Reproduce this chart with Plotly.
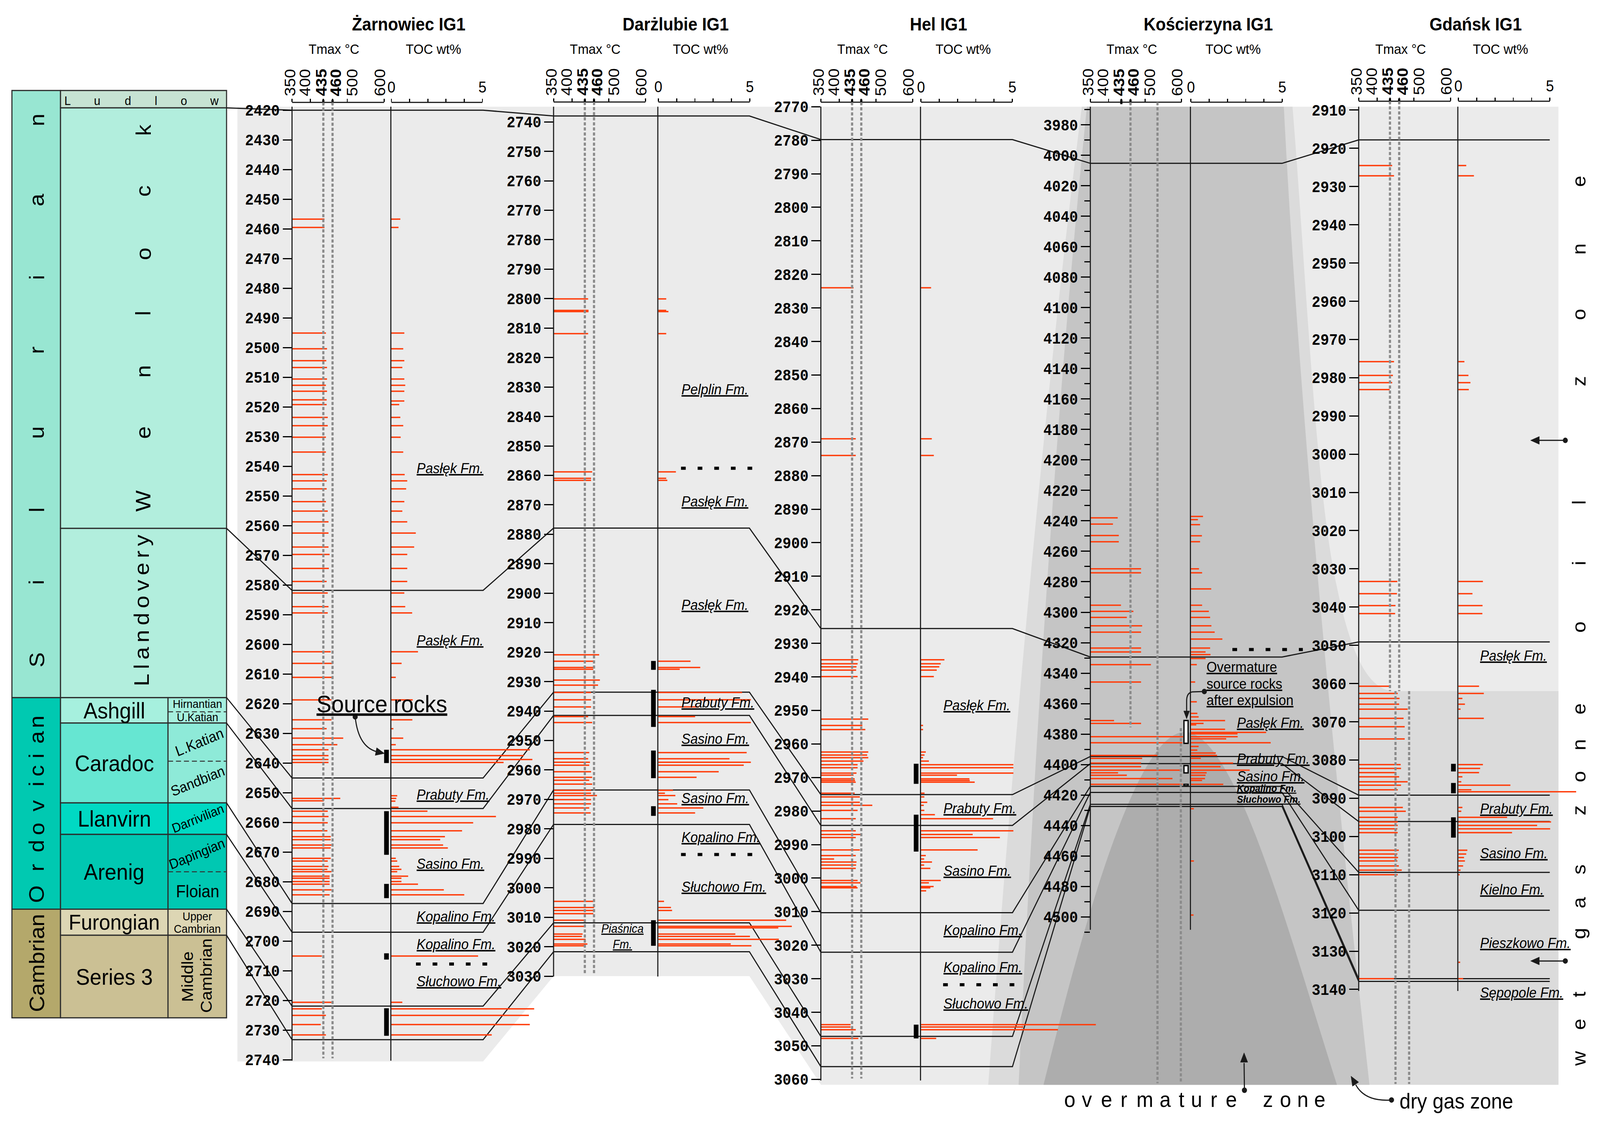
import math
import plotly.graph_objects as go

W, H = 4428, 2871

# ============================ DATA ============================
well_names = ["Żarnowiec IG1", "Darżlubie IG1", "Hel IG1", "Kościerzyna IG1", "Gdańsk IG1"]
tmax_ticks = [350, 400, 435, 460, 500, 600]
tmax_ticktext = ["350", "400", "<b>435</b>", "<b>460</b>", "500", "600"]
toc_ticks = [0, 1, 2, 3, 4, 5]
toc_ticktext = ["0", "", "", "", "", "5"]

zar_depth_ticks = list(range(2420, 2741, 10))
dar_depth_ticks = list(range(2740, 3031, 10))
hel_depth_ticks = list(range(2770, 3061, 10))
kos_depth_ticks = list(range(3980, 4501, 20))
kos_minor_ticks = list(range(3970, 4511, 10))
gda_depth_ticks = list(range(2910, 3141, 10))

# (depth m, Tmax degC)
zar_tmax = [(2456.7, 438), (2459.5, 438), (2495.1, 442), (2500.4, 445), (2504.4, 443), (2506.7, 445), (2510.6, 445),
            (2512.7, 442), (2514.7, 445), (2517.6, 444), (2519.2, 444), (2523.5, 447), (2526.3, 447), (2530.2, 442),
            (2535.2, 442), (2542.8, 447), (2544.9, 444), (2547.6, 444), (2551.9, 442), (2555.1, 447), (2558.7, 449),
            (2562.5, 449), (2567.2, 449), (2569.7, 452), (2574.4, 450), (2578.8, 444), (2582.7, 447), (2587.3, 449),
            (2589.4, 447), (2602.5, 455), (2606.4, 460), (2611.1, 460), (2618.7, 457), (2625.4, 457), (2628.4, 444),
            (2631.6, 489), (2633.8, 473), (2635.5, 449), (2637.5, 449), (2638.8, 449), (2639.8, 449), (2651.9, 481),
            (2652.7, 436), (2656.2, 447), (2658.0, 449), (2660.1, 447), (2662.8, 446), (2664.8, 455), (2665.8, 455),
            (2667.6, 457), (2668.6, 455), (2672.1, 455), (2673.0, 447), (2674.8, 449), (2675.8, 446), (2676.6, 457),
            (2678.1, 452), (2678.8, 452), (2679.9, 452), (2680.8, 452), (2682.7, 457), (2684.4, 452), (2705.0, 431),
            (2720.6, 457), (2722.8, 431), (2725.0, 442), (2728.1, 428), (2731.6, 442)]
# (depth m, TOC wt%)
zar_toc = [(2456.7, 0.49), (2459.5, 0.39), (2495.1, 0.71), (2500.4, 0.65), (2504.4, 0.71), (2506.7, 0.60),
           (2510.6, 0.71), (2512.7, 0.76), (2514.7, 0.71), (2518.0, 0.71), (2519.2, 0.43), (2523.5, 0.49),
           (2526.3, 0.65), (2530.2, 0.51), (2535.2, 0.65), (2542.8, 0.73), (2544.9, 0.87), (2547.6, 0.81),
           (2551.9, 0.71), (2555.1, 0.60), (2558.7, 0.87), (2562.5, 1.34), (2567.2, 1.25), (2569.7, 0.87),
           (2574.4, 0.87), (2578.8, 0.87), (2582.7, 0.71), (2587.3, 0.76), (2589.4, 1.14), (2602.5, 1.46),
           (2606.4, 0.56), (2611.1, 0.24), (2618.7, 1.17), (2625.4, 1.15), (2628.4, 0.11), (2631.6, 0.65),
           (2633.8, 0.24), (2635.5, 7.60), (2637.5, 7.27), (2638.8, 7.74), (2639.8, 6.16), (2651.0, 0.32),
           (2651.9, 0.27), (2652.8, 0.22), (2654.9, 0.39), (2656.2, 1.98), (2658.0, 5.74), (2660.1, 4.49),
           (2662.8, 3.88), (2664.8, 2.94), (2665.8, 2.68), (2667.6, 2.84), (2668.6, 3.10), (2672.1, 0.24),
           (2673.0, 0.32), (2674.8, 0.43), (2675.8, 0.55), (2676.6, 0.32), (2678.1, 0.92), (2678.8, 0.55),
           (2679.9, 0.55), (2680.8, 1.46), (2682.7, 2.88), (2684.4, 4.00), (2705.0, 4.76), (2720.6, 0.60),
           (2722.8, 7.84), (2725.0, 7.55), (2728.1, 7.60), (2731.6, 5.51)]

dar_tmax = [(2800.1, 444), (2804.0, 445), (2804.4, 445), (2811.9, 444), (2858.8, 455), (2861.0, 452), (2861.7, 452),
            (2920.9, 474), (2923.1, 460), (2925.2, 458), (2925.8, 458), (2929.5, 476), (2931.2, 471), (2933.7, 452),
            (2936.2, 452), (2938.6, 452), (2941.9, 444), (2943.9, 455), (2954.1, 447), (2956.2, 444), (2957.4, 449),
            (2958.4, 447), (2960.6, 452), (2962.5, 455), (2963.5, 447), (2964.8, 455), (2966.9, 452), (2967.9, 452),
            (2968.7, 468), (2970.1, 452), (2971.5, 452), (2972.9, 447), (2974.6, 451), (3004.6, 458), (3006.7, 460),
            (3007.7, 462), (3008.8, 458), (3011.0, 434), (3013.1, 437), (3015.7, 429), (3016.5, 427), (3017.5, 437),
            (3019.1, 442), (3019.7, 437)]
dar_toc = [(2800.1, 0.43), (2804.0, 0.43), (2804.4, 0.55), (2811.9, 0.43), (2858.8, 0.96), (2861.0, 0.43),
           (2861.7, 0.49), (2923.1, 1.76), (2925.2, 2.29), (2925.8, 1.17), (2933.7, 4.58), (2936.2, 5.06),
           (2938.6, 2.22), (2941.9, 2.01), (2943.9, 5.06), (2954.1, 4.83), (2956.2, 3.89), (2957.4, 5.06),
           (2958.4, 4.67), (2960.6, 3.30), (2962.5, 2.09), (2966.9, 0.80), (2967.9, 0.36), (2968.7, 0.93),
           (2970.1, 0.55), (2971.5, 1.03), (2972.9, 2.46), (2974.6, 2.01), (3004.6, 0.31), (3006.7, 0.69),
           (3007.7, 0.75), (3011.0, 6.99), (3013.1, 7.30), (3013.6, 6.56), (3015.7, 4.21), (3016.5, 5.01),
           (3017.5, 6.59), (3019.1, 3.96), (3019.7, 5.09)]

hel_tmax = [(2824.0, 439), (2869.0, 445), (2874.0, 445), (2934.9, 452), (2936.1, 450), (2937.0, 447), (2938.0, 446),
            (2939.9, 450), (2952.6, 479), (2954.5, 463), (2955.7, 471), (2962.4, 479), (2963.3, 476), (2964.1, 479),
            (2965.1, 466), (2966.2, 450), (2967.1, 450), (2968.7, 447), (2969.3, 439), (2970.4, 442), (2970.9, 443),
            (2971.4, 445), (2974.7, 442), (2975.8, 456), (2977.4, 456), (2978.3, 490), (2979.8, 450), (2982.3, 445),
            (2985.9, 445), (2987.0, 458), (2987.9, 445), (2991.6, 456), (2993.3, 445), (2994.3, 386), (2995.2, 447),
            (2996.1, 446), (2997.1, 445), (3000.7, 450), (3001.4, 458), (3002.5, 447), (3002.9, 450), (3043.7, 431),
            (3044.4, 431), (3045.2, 445), (3047.8, 452)]
hel_toc = [(2824.0, 0.55), (2869.0, 0.59), (2874.0, 0.70), (2934.9, 1.28), (2936.1, 1.08), (2937.0, 1.00),
           (2938.0, 0.86), (2939.9, 0.70), (2954.5, 0.11), (2955.7, 0.11), (2962.4, 0.26), (2963.3, 0.19),
           (2964.1, 0.11), (2965.1, 0.43), (2966.2, 5.06), (2967.1, 5.06), (2968.7, 5.06), (2969.3, 1.97),
           (2970.4, 2.65), (2970.9, 2.67), (2971.4, 2.94), (2974.7, 0.19), (2975.8, 0.18), (2977.4, 0.34),
           (2978.3, 0.15), (2979.8, 0.18), (2981.1, 0.76), (2982.3, 3.95), (2985.9, 5.06), (2987.0, 2.83),
           (2987.9, 4.32), (2991.6, 3.10), (2993.3, 0.26), (2994.3, 0.17), (2995.2, 0.60), (2996.1, 0.17),
           (2997.1, 0.51), (3000.7, 1.08), (3001.4, 0.43), (3002.5, 0.69), (3002.9, 0.51), (3003.8, 0.28),
           (3043.7, 9.58), (3044.4, 5.60), (3045.2, 7.50), (3047.8, 0.83)]

kos_tmax = [(4238.0, 425), (4242.1, 412), (4249.6, 428), (4253.7, 428), (4271.5, 489), (4274.1, 489), (4295.4, 434),
            (4299.4, 468), (4303.4, 450), (4308.9, 492), (4313.1, 489), (4323.5, 489), (4326.1, 489), (4334.4, 516),
            (4345.8, 489), (4371.1, 415), (4373.0, 489), (4381.7, 604), (4385.7, 602), (4394.0, 534), (4395.9, 492),
            (4399.0, 489), (4401.4, 489), (4403.7, 595), (4405.4, 426), (4407.0, 450), (4409.2, 575), (4413.0, 603)]
kos_toc = [(4237.1, 0.66), (4239.2, 0.38), (4242.5, 0.50), (4249.8, 0.60), (4253.7, 0.50), (4271.5, 0.44),
           (4274.1, 0.61), (4284.7, 1.11), (4295.4, 0.61), (4299.4, 0.98), (4303.4, 1.05), (4308.9, 1.12),
           (4313.1, 1.30), (4317.6, 1.72), (4323.5, 1.05), (4326.1, 0.80), (4327.8, 1.07), (4330.4, 0.80),
           (4334.4, 0.32), (4345.8, 0.23), (4358.8, 0.32), (4366.4, 0.35), (4368.7, 0.42), (4371.1, 1.87),
           (4373.0, 0.69), (4373.9, 0.29), (4376.8, 1.87), (4378.9, 4.12), (4379.8, 2.55), (4381.7, 2.56),
           (4383.1, 1.93), (4385.7, 4.37), (4388.1, 0.42), (4390.5, 0.35), (4392.4, 1.36), (4394.0, 1.43),
           (4395.9, 0.54), (4399.0, 2.31), (4401.4, 1.62), (4403.7, 3.22), (4405.4, 0.86), (4407.0, 0.80),
           (4409.2, 0.77), (4410.4, 0.61), (4413.0, 1.77), (4429.0, 0.16), (4463.3, 0.16), (4498.8, 0.14)]

gda_tmax = [(2924.5, 441), (2927.2, 446), (2975.8, 446), (2979.4, 443), (2981.3, 441), (2983.1, 434), (3033.3, 455),
            (3036.5, 454), (3039.6, 450), (3041.7, 449), (3060.7, 434), (3062.6, 456), (3063.9, 461), (3065.4, 460),
            (3066.7, 483), (3069.1, 472), (3071.3, 475), (3074.5, 475), (3081.2, 464), (3082.2, 465), (3083.3, 452),
            (3084.4, 460), (3085.7, 483), (3086.6, 465), (3087.8, 456), (3092.4, 470), (3093.4, 478), (3095.0, 456),
            (3096.2, 456), (3097.1, 456), (3098.0, 455), (3099.0, 456), (3103.6, 459), (3104.6, 455), (3105.5, 457),
            (3106.4, 455), (3107.7, 459), (3108.8, 467), (3110.0, 456), (3137.2, 446)]
gda_toc = [(2924.5, 0.43), (2927.2, 0.85), (2975.8, 0.33), (2979.4, 0.55), (2981.3, 0.66), (2983.1, 0.57),
           (3033.3, 1.34), (3036.5, 0.77), (3039.6, 1.32), (3041.7, 1.31), (3060.7, 1.13), (3062.6, 1.39),
           (3063.9, 0.22), (3065.4, 0.36), (3066.7, 0.12), (3069.1, 1.39), (3081.2, 1.34), (3082.2, 1.19),
           (3083.3, 1.13), (3084.4, 0.22), (3085.7, 0.16), (3086.6, 2.84), (3087.8, 0.71), (3088.3, 6.43),
           (3092.4, 0.22), (3093.4, 0.16), (3095.0, 2.66), (3096.2, 5.06), (3097.1, 4.30), (3098.0, 5.01),
           (3099.0, 2.93), (3103.6, 0.49), (3104.6, 0.43), (3105.5, 0.31), (3106.4, 0.36), (3107.7, 0.26),
           (3108.8, 0.12), (3110.0, 0.07), (3132.9, 0.10), (3137.2, 0.26)]

# correlated boundaries (depth, m) – same order in each well
zar_bounds = [2420.0, 2581.8, 2645.0, 2655.3, 2687.3, 2697.0, 2721.9, 2733.2]
dar_bounds = [2738.0, 2877.9, 2933.6, 2941.5, 2966.8, 2978.5, 3011.9, 3021.7]
hel_bounds = [2779.8, 2925.6, 2975.1, 2984.3, 3010.3, 3022.1, 3047.2, 3056.2]
kos_bounds = [4005.3, 4329.4, 4394.7, 4399.4, 4414.3, 4418.3, 4426.1, 4427.5]
gda_bounds = [2917.8, 3049.1, 3089.2, 3096.1, 3109.4, 3119.3, 3137.2, 3137.9]

# source-rock intervals (top, bottom)
zar_source = [(2635.5, 2640.0), (2656.2, 2670.9), (2680.7, 2685.5), (2704.1, 2706.2), (2722.6, 2731.9)]
dar_source = [(2923.0, 2926.0), (2932.8, 2945.4), (2953.4, 2962.8), (2972.3, 2975.6), (3011.0, 3019.7)]
hel_source = [(2965.9, 2971.9), (2981.1, 2992.1), (3043.7, 3047.8)]
kos_source = []
gda_source = [(3081.0, 3083.0), (3086.0, 3088.7), (3095.0, 3100.3)]
kos_overmature = [(4370.6, 4386.5), (4400.2, 4405.9), (4412.5, 4414.1)]

# formation labels (name, depth)
zar_fm = [("Pasłęk Fm.", 2540.7), ("Pasłęk Fm.", 2598.7), ("Prabuty Fm.", 2650.7), ("Sasino Fm.", 2673.9),
          ("Kopalino Fm.", 2691.7), ("Kopalino Fm.", 2701.1), ("Słuchowo Fm.", 2713.5)]
dar_fm = [("Pelplin Fm.", 2830.9), ("Pasłęk Fm.", 2868.9), ("Pasłęk Fm.", 2904.0), ("Prabuty Fm.", 2937.2),
          ("Sasino Fm.", 2949.5), ("Sasino Fm.", 2969.6), ("Kopalino Fm.", 2982.9), ("Słuchowo Fm.", 2999.7)]
hel_fm = [("Pasłęk Fm.", 2948.5), ("Prabuty Fm.", 2979.2), ("Sasino Fm.", 2997.9), ("Kopalino Fm.", 3015.5),
          ("Kopalino Fm.", 3026.6), ("Słuchowo Fm.", 3037.4)]
kos_fm = [("Pasłęk Fm.", 4372.7), ("Prabuty Fm.", 4396.3), ("Sasino Fm.", 4407.7), ("Kopalino Fm.", 4415.7),
          ("Słuchowo Fm.", 4422.8)]
gda_fm = [("Pasłęk Fm.", 3052.7), ("Prabuty Fm.", 3092.8), ("Sasino Fm.", 3104.4), ("Kielno Fm.", 3113.9),
          ("Pieszkowo Fm.", 3127.9), ("Sępopole Fm.", 3140.9)]
dar_piasnica = ("Piaśnica<br>Fm.", 3016.5)
# facies breaks (dashed) depths
zar_breaks = [2707.7]
dar_breaks = [2857.6, 2988.7]
hel_breaks = [3031.8]
kos_breaks = [4324.5]
gda_breaks = []

# ============================ LAYOUT GEOMETRY (pixels) ============================
SANS = "Liberation Sans, Arial, sans-serif"
MONO = "Liberation Mono, DejaVu Sans Mono, monospace"
RED = "#ff3c0a"
INK = "#1a1a1a"

GEO = [
    dict(x350=808.2, tpx=1.0192, toc0=1083.2, tu=50.4, d1=2420, y1=275.0, d2=2740, y2=2714.0,
         ytop=255.0, ybot=2716.0, xend=1337.0, tocmax=8.6, lx=1.35, brk=(1.35, 5.3)),
    dict(x350=1532.0, tpx=1.0176, toc0=1822.0, tu=50.6, d1=2740, y1=305.0, d2=3030, y2=2499.0,
         ytop=254.0, ybot=2500.0, xend=2074.0, tocmax=8.0, lx=1.22, brk=(1.24, 5.17)),
    dict(x350=2271.7, tpx=1.0172, toc0=2549.0, tu=50.5, d1=2770, y1=266.0, d2=3060, y2=2764.0,
         ytop=254.5, ybot=2767.0, xend=2802.0, tocmax=10.0, lx=1.19, brk=(1.21, 5.14)),
    dict(x350=3017.5, tpx=1.0100, toc0=3296.0, tu=50.5, d1=3980, y1=312.5, d2=4500, y2=2346.8,
         ytop=254.5, ybot=2380.0, xend=3548.0, tocmax=9.0, lx=2.48, brk=(2.27, 6.13)),
    dict(x350=3760.2, tpx=1.0184, toc0=4036.0, tu=50.7, d1=2910, y1=274.7, d2=3140, y2=2533.0,
         ytop=252.0, ybot=2537.0, xend=4289.0, tocmax=7.5, lx=1.14, brk=(1.2, 5.1)),
]
AXIS_PAD = 60.0          # extra axis domain below the panel (keeps bottom labels visible)
PANEL_TOP = 266.0
TMAX_LABEL_DX = [-6, -15, -6, 9, 14, -12]
DOTTED = [
    [(435, 255, 2710), (460, 255, 2710)],
    [(435, 254, 2496), (460, 254, 2496)],
    [(435, 254.5, 2762), (460, 254.5, 2762)],
    [(460, 254.5, 1860), (534, 254.5, 2774), (598, 1862, 2774)],
    [(435, 252, 1767), (460, 252, 1767), (450, 1767, 2776), (487, 1767, 2776)],
]
STRAT_RIGHT = 627.0
STRAT_LINK_Y = [269.0, 1349.0, 1783.6, 1849.0, 2054.0, 2135.0, 2327.0, 2394.0]

wells = [
    dict(tmax=zar_tmax, toc=zar_toc, bounds=zar_bounds, ticks=zar_depth_ticks, src=zar_source, fm=zar_fm, brk=zar_breaks),
    dict(tmax=dar_tmax, toc=dar_toc, bounds=dar_bounds, ticks=dar_depth_ticks, src=dar_source, fm=dar_fm, brk=dar_breaks),
    dict(tmax=hel_tmax, toc=hel_toc, bounds=hel_bounds, ticks=hel_depth_ticks, src=hel_source, fm=hel_fm, brk=hel_breaks),
    dict(tmax=kos_tmax, toc=kos_toc, bounds=kos_bounds, ticks=kos_depth_ticks, src=kos_source, fm=kos_fm, brk=kos_breaks),
    dict(tmax=gda_tmax, toc=gda_toc, bounds=gda_bounds, ticks=gda_depth_ticks, src=gda_source, fm=gda_fm, brk=gda_breaks),
]


def ypx(g, d):
    return g["y1"] + (d - g["d1"]) * (g["y2"] - g["y1"]) / (g["d2"] - g["d1"])


def dep(g, y):
    return g["d1"] + (y - g["y1"]) * (g["d2"] - g["d1"]) / (g["y2"] - g["y1"])


def xt(g, t):
    return g["x350"] + (t - 350) * g["tpx"]


def xc(g, c):
    return g["toc0"] + c * g["tu"]


def xid(n):
    return "x" if n == 1 else f"x{n}"


def yid(n):
    return "y" if n == 1 else f"y{n}"


def xkey(n):
    return "xaxis" if n == 1 else f"xaxis{n}"


def ykey(n):
    return "yaxis" if n == 1 else f"yaxis{n}"


fig = go.Figure()
layout = {}
shapes = []
anns = []


def T(x, y, s, size, angle=0, xa="center", ya="middle", family=SANS, color="black", weight=None, xref="x", yref="y"):
    f = dict(family=family, size=size, color=color)
    if weight:
        f["weight"] = weight
    anns.append(dict(x=x, y=y, xref=xref, yref=yref, text=s, showarrow=False, textangle=angle,
                     xanchor=xa, yanchor=ya, font=f))


def line(x0, y0, x1, y1, color=INK, width=3, dash=None, layer="above"):
    d = dict(type="line", xref="x", yref="y", x0=x0, y0=y0, x1=x1, y1=y1, layer=layer,
             line=dict(color=color, width=width))
    if dash:
        d["line"]["dash"] = dash
    shapes.append(d)


def rect(x0, y0, x1, y1, fill, lc="#2b2b2b", lw=3, layer="below"):
    shapes.append(dict(type="rect", xref="x", yref="y", x0=x0, y0=y0, x1=x1, y1=y1, layer=layer,
                       fillcolor=fill, line=dict(color=lc, width=lw)))


def path(p, fill=None, lc=INK, lw=3, layer="below"):
    d = dict(type="path", xref="x", yref="y", path=p, layer=layer, line=dict(color=lc, width=lw))
    if fill:
        d["fillcolor"] = fill
    shapes.append(d)


def head(tx, ty, fx, fy, L=24, hw=10):
    dx, dy = tx - fx, ty - fy
    n = math.hypot(dx, dy)
    ux, uy = dx / n, dy / n
    bx, by = tx - ux * L, ty - uy * L
    px_, py_ = -uy * hw, ux * hw
    path(f"M {tx},{ty} L {bx+px_},{by+py_} L {bx-px_},{by-py_} Z", fill=INK, lc=INK, lw=1, layer="above")


# ---------------- overlay (pixel canvas) axes ----------------
layout["xaxis"] = dict(domain=[0, 1], range=[0, W], visible=False, anchor="y", fixedrange=True)
layout["yaxis"] = dict(domain=[0, 1], range=[H, 0], visible=False, anchor="x", fixedrange=True)

# ---------------- background maturity zones ----------------
path("M 657,266 L 4313,266 L 4313,2778 L 2272,2778 L 2074,2499 L 1532,2499 L 1337,2718 L 657,2718 Z",
     fill="#ebebeb", lw=0)
path("M 2994,266 L 3577,266 C 3615,700 3640,1250 3700,1500 C 3740,1680 3790,1767 3860,1767 "
     "L 4313,1767 L 4313,2778 L 2735,2778 Q 2855,1274 2994,266 Z", fill="#dbdbdb", lw=0)
path("M 3008,266 L 3553,266 Q 3608,1274 3790,2778 L 2819,2778 Q 2896,1274 3008,266 Z", fill="#c5c5c5", lw=0)
path("M 2888,2778 C 2990,2400 3140,1872 3279,1872 C 3420,1872 3570,2400 3700,2778 Z", fill="#adadad", lw=0)

# ---------------- stratigraphic column ----------------
X0, X1, X2, X3 = 33.0, 167.5, 465.0, 627.0
periods = [("Silurian", 224.5, 1783.6, "#98e6d2"), ("Ordovician", 1783.6, 2327.0, "#00c9b1"),
           ("Cambrian", 2327.0, 2606.0, "#b4a86b")]
for _, a, b, c in periods:
    rect(X0, a, X1, b, c)
rect(X1, 224.5, X3, 269.0, "#c6e3d3")
rect(X1, 269.0, X3, 1349.0, "#b2eedd")
rect(X1, 1349.0, X3, 1783.6, "#b2eedd")
epochs = [("Ashgill", 1783.6, 1849.0, "#a6f0de"), ("Caradoc", 1849.0, 2054.0, "#66e6d2"),
          ("Llanvirn", 2054.0, 2135.0, "#00d9c3"), ("Arenig", 2135.0, 2327.0, "#00c8b2"),
          ("Furongian", 2327.0, 2394.0, "#ddd6b4"), ("Series 3", 2394.0, 2606.0, "#cbc094")]
stage_fill = ["#a6f0de", "#8eead8", "#00d9c3", "#00c8b2", "#ddd6b4", "#cbc094"]
for (nm, a, b, c), sc in zip(epochs, stage_fill):
    rect(X1, a, X2, b, c)
    rect(X2, a, X3, b, sc)
    T((X1 + X2) / 2, (a + b) / 2, nm, 58 if nm != "Furongian" else 56)
for yd in (1820.0, 1947.0, 2231.0):
    line(X2, yd, X3, yd, color="#333333", width=2.5, dash="14px,8px", layer="below")

for ch, yy in zip("Silurian", [1687, 1488, 1302, 1103, 892, 705, 506, 300]):
    T(101, yy, ch, 58, angle=-90)
for ch, yy in zip("Ordovician", [2289, 2221, 2165, 2121, 2062, 2006, 1972, 1934, 1886, 1846]):
    T(101, yy, ch, 58, angle=-90)
T(101, 2466, "Cambrian", 58, angle=-90)
for ch, xx in zip("Ludlow", [187, 269, 353.5, 431, 509, 593]):
    T(xx, 251, ch, 32)
for ch, yy in zip("Wenlock", [1279, 1103, 946, 797, 644, 483, 326]):
    T(396, yy, ch, 58, angle=-90)
T(392, 1560, "\u2009".join("Llandovery"), 58, angle=-90)
T(546, 1800, "Hirnantian", 30)
T(546, 1834, "U.Katian", 30)
T(551, 1898, "L.Katian", 38, angle=-21)
T(547, 1998, "Sandbian", 37, angle=-21)
T(547, 2094, "Darrivilian", 34, angle=-21)
T(545, 2185, "Dapingian", 36, angle=-21)
T(547, 2281, "Floian", 44)
T(546, 2345, "Upper", 30)
T(546, 2377, "Cambrian", 30)
T(518, 2500, "Middle", 44, angle=-90)
T(570, 2498, "Cambrian", 44, angle=-90)

# ---------------- wells ----------------
cor_x, cor_y = [], []
for i in range(8):
    cor_x.append(STRAT_RIGHT)
    cor_y.append(STRAT_LINK_Y[i])
    for g, w in zip(GEO, wells):
        yv = ypx(g, w["bounds"][i])
        cor_x += [g["x350"], g["xend"]]
        cor_y += [yv, yv]
    cor_x.append(None)
    cor_y.append(None)
fig.add_trace(go.Scatter(x=cor_x, y=cor_y, xaxis="x", yaxis="y", mode="lines",
                         line=dict(color=INK, width=3), hoverinfo="skip", showlegend=False))


def bars(pairs, base):
    xs, ys = [], []
    for d, v in pairs:
        xs += [base, v, None]
        ys += [d, d, None]
    return xs, ys


for k, (g, w) in enumerate(zip(GEO, wells)):
    tx, cx, yy = 2 * k + 2, 2 * k + 3, k + 2
    ydom_bot = g["ybot"] + AXIS_PAD
    layout[xkey(tx)] = dict(domain=[xt(g, 350) / W, xt(g, 612) / W], range=[350, 612], anchor=yid(yy),
                            side="top", showgrid=False, zeroline=False, showline=False, ticks="outside",
                            ticklen=8, tickwidth=3, tickcolor="black", tickvals=tmax_ticks,
                            showticklabels=False, fixedrange=True)
    layout[xkey(cx)] = dict(domain=[xc(g, -0.6) / W, xc(g, g["tocmax"]) / W], range=[-0.6, g["tocmax"]],
                            anchor=yid(yy), side="top", showgrid=False, zeroline=False, showline=False,
                            ticks="outside", ticklen=8, tickwidth=3, tickcolor="black", tickvals=toc_ticks,
                            ticktext=toc_ticktext, tickfont=dict(family=SANS, size=40, color="black"),
                            fixedrange=True)
    yax = dict(domain=[1 - ydom_bot / H, 1 - g["ytop"] / H], range=[dep(g, ydom_bot), dep(g, g["ytop"])],
               anchor=xid(tx), side="left", showgrid=False, zeroline=False, showline=False, ticks="outside",
               ticklen=25, tickwidth=3, tickcolor="black", tickvals=w["ticks"],
               tickfont=dict(family=MONO, size=40, color="black", weight="bold"), fixedrange=True)
    if k == 3:
        yax["minor"] = dict(tickvals=kos_minor_ticks, ticks="outside", ticklen=15, tickwidth=3, tickcolor="black")
    layout[ykey(yy)] = yax

    # data bars
    xs, ys = bars(w["tmax"], 350)
    fig.add_trace(go.Scatter(x=xs, y=ys, xaxis=xid(tx), yaxis=yid(yy), mode="lines",
                             line=dict(color=RED, width=3.5), hoverinfo="skip", showlegend=False))
    xs, ys = bars(w["toc"], 0)
    fig.add_trace(go.Scatter(x=xs, y=ys, xaxis=xid(cx), yaxis=yid(yy), mode="lines",
                             line=dict(color=RED, width=3.5), hoverinfo="skip", showlegend=False))
    # source rocks
    if w["src"]:
        sx, sy = [], []
        for a, b in w["src"]:
            sx += [-0.27, -0.27, None]
            sy += [a, b, None]
        fig.add_trace(go.Scatter(x=sx, y=sy, xaxis=xid(cx), yaxis=yid(yy), mode="lines",
                                 line=dict(color="black", width=13), hoverinfo="skip", showlegend=False))
    # facies breaks
    if w["brk"]:
        bx, by = [], []
        for d in w["brk"]:
            bx += [g["brk"][0], g["brk"][1], None]
            by += [d, d, None]
        fig.add_trace(go.Scatter(x=bx, y=by, xaxis=xid(cx), yaxis=yid(yy), mode="lines",
                                 line=dict(color="black", width=8, dash="13px,33px"),
                                 hoverinfo="skip", showlegend=False))
    # formation labels
    for j, (nm, d) in enumerate(w["fm"]):
        small = (k == 3 and j >= 3)
        txt = f"<b><i><u>{nm}</u></i></b>" if small else f"<i><u>{nm}</u></i>"
        T(g["lx"], d, txt, 26 if small else 37, xa="left", xref=xid(cx), yref=yid(yy))
    if k == 1:
        T(478, dar_piasnica[1], "<i><u>Piaśnica</u></i><br><i><u>Fm.</u></i>", 31, xa="left",
          xref=xid(tx), yref=yid(yy))
    if k == 3:
        ox, oy = [], []
        for a, b in kos_overmature:
            ox += [-0.27, -0.27, None]
            oy += [a, b, None]
        fig.add_trace(go.Scatter(x=ox, y=oy, xaxis=xid(cx), yaxis=yid(yy), mode="lines",
                                 line=dict(color="black", width=15), hoverinfo="skip", showlegend=False))
        ox2, oy2 = [], []
        for a, b in kos_overmature:
            ox2 += [-0.27, -0.27, None]
            oy2 += [a + 0.9, b - 0.9, None]
        fig.add_trace(go.Scatter(x=ox2, y=oy2, xaxis=xid(cx), yaxis=yid(yy), mode="lines",
                                 line=dict(color="white", width=8), hoverinfo="skip", showlegend=False))

    # panel frame lines
    line(g["x350"], PANEL_TOP, g["x350"], g["ybot"])
    line(g["toc0"] - 1.5, PANEL_TOP, g["toc0"] - 1.5, g["ybot"])
    line(xt(g, 350), g["ytop"], xt(g, 600), g["ytop"])
    line(xc(g, 0), g["ytop"], xc(g, 5), g["ytop"])
    for tv in (435, 460):
        shapes.append(dict(type="rect", xref="x", yref="y", x0=xt(g, tv) - 3, x1=xt(g, tv) + 3,
                           y0=g["ytop"] - 7, y1=g["ytop"] + 5, fillcolor="black", line=dict(width=0),
                           layer="above"))
    for tv, a, b in DOTTED[k]:
        line(xt(g, tv), a, xt(g, tv), b, color="#8a8a8a", width=6, dash="8px,5px")

    # headers
    T(g["toc0"] + 48, 54, well_names[k], 46, weight="bold")
    T((xt(g, 350) + xt(g, 600)) / 2 - 12, 118, "Tmax °C", 36)
    T(xc(g, 2.5) - 10, 118, "TOC wt%", 36)
    for tv, tt, dx in zip(tmax_ticks, tmax_ticktext, TMAX_LABEL_DX):
        T(xt(g, tv) + dx, g["ytop"] - 51, tt, 42, angle=-90)

# ---------------- annotations & arrows ----------------
T(1057, 1800, "<u>Source rocks</u>", 62)
path("M 983,1833 Q 992,1915 1050,1924", lw=3, layer="above")
head(1064, 1927, 1040, 1922)

for s, yy in zip(["Overmature", "source rocks", "after expulsion"], [1705, 1748, 1790]):
    T(3337, yy, f"<u>{s}</u>", 37, xa="left")
path("M 3333,1768 L 3300,1769 Q 3284,1771 3284,1792 L 3284,1822", lw=3, layer="above")
head(3284, 1838, 3284, 1815, L=20, hw=8)

for ch, xx in zip("overmature", [2960, 3008, 3062.5, 3110, 3168, 3225, 3270, 3311, 3359, 3407]):
    T(xx, 2815, ch, 56)
for ch, xx in zip("zone", [3509, 3557, 3605, 3652]):
    T(xx, 2815, ch, 56)
line(3444, 2792, 3443, 2722)
head(3443, 2696, 3443, 2730)

T(4030, 2820, "dry gas zone", 55)
path("M 3851,2817 Q 3778,2822 3752,2778", lw=3, layer="above")
head(3739, 2756, 3755, 2782)

for ch, yy in zip("oilzone", [1603, 1438, 1282, 971, 800, 632, 458]):
    T(4370, yy, ch, 52, angle=-90)
for ch, yy in zip("wetgaszone", [2711, 2623, 2546, 2390, 2311, 2225, 2073, 1987, 1905, 1813]):
    T(4370, yy, ch, 52, angle=-90)
line(4332, 1123, 4258, 1123)
head(4236, 1123, 4260, 1123)
line(4332, 2460, 4258, 2460)
head(4236, 2460, 4260, 2460)

fig.add_trace(go.Scatter(x=[983, 3333, 3444, 3851, 4332, 4332], y=[1833, 1768, 2792, 2817, 1123, 2460],
                         xaxis="x", yaxis="y", mode="markers", marker=dict(color=INK, size=14),
                         hoverinfo="skip", showlegend=False))

layout.update(dict(width=W, height=H, margin=dict(l=0, r=0, t=0, b=0), paper_bgcolor="white",
                   plot_bgcolor="rgba(0,0,0,0)", showlegend=False, shapes=shapes, annotations=anns,
                   font=dict(family=SANS, color="black")))
fig.update_layout(**layout)

FIT_JS = ("document.documentElement.style.margin='0';document.body.style.margin='0';"
          "document.body.style.overflow='hidden';document.documentElement.style.overflow='hidden';"
          "var gd=document.getElementById('{plot_id}');"
          "var sx=window.innerWidth/4428, sy=window.innerHeight/2871;"
          "gd.style.transformOrigin='0 0';"
          "gd.style.transform='scale('+sx+','+sy+')';")
fig.write_html("out.html", config={"displayModeBar": False}, post_script=FIT_JS)
